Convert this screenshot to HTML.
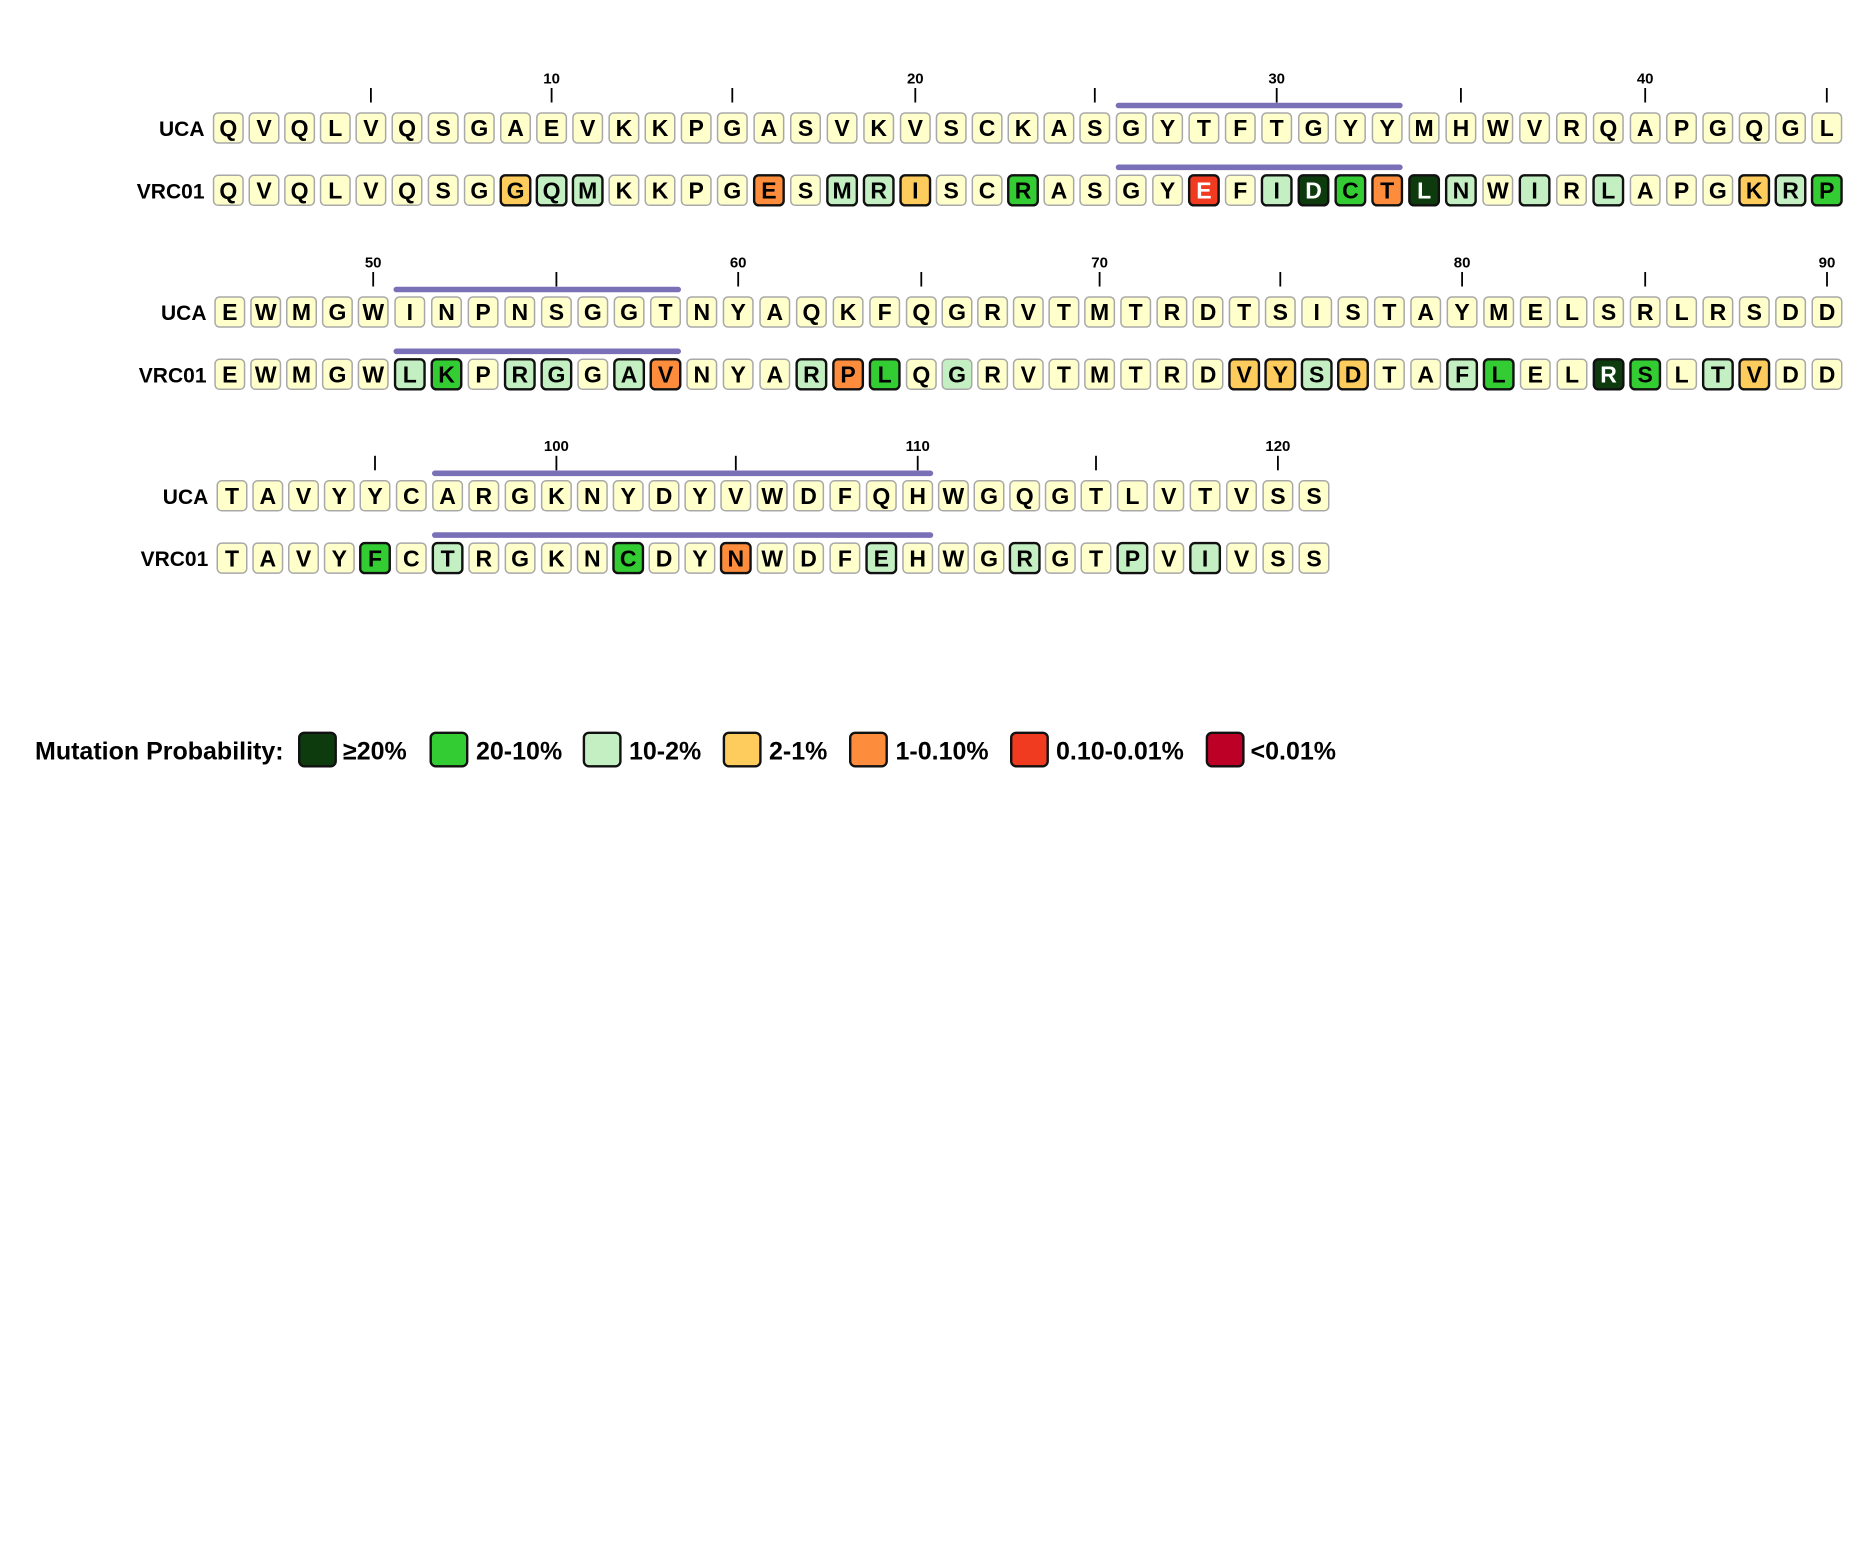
<!DOCTYPE html>
<html><head><meta charset="utf-8">
<style>
html,body{margin:0;padding:0;background:#fff;}
svg{display:block}
svg text{font-family:"Liberation Sans",Arial,sans-serif;font-weight:bold;stroke:none;fill:#000}
.r text{font-size:23px;text-anchor:middle}
.lab{font-size:21px;text-anchor:end}
.tl{font-size:15px;text-anchor:middle}
.leg{font-size:25px}
.p{fill:#ffffcc;stroke:#a8a8a8;stroke-width:1.5}
.lgp{fill:#c3efc3;stroke:#a8a8a8;stroke-width:1.5}
.lg{fill:#c3efc3;stroke:#111;stroke-width:2.4}
.g{fill:#33cc33;stroke:#111;stroke-width:2.4}
.dg{fill:#0e3b0e;stroke:#111;stroke-width:2.4}
.yo{fill:#fecc5c;stroke:#111;stroke-width:2.4}
.or{fill:#fd8d3c;stroke:#111;stroke-width:2.4}
.rd{fill:#f03b20;stroke:#111;stroke-width:2.4}
.dr{fill:#bd0026;stroke:#111;stroke-width:2.4}
.w text{fill:#fff}
.tk{stroke:#000;stroke-width:1.8}
.bar{fill:#7a70b8}
</style></head>
<body>
<svg width="1876" height="1563" viewBox="0 0 1876 1563" xmlns="http://www.w3.org/2000/svg">
<defs><rect id="b" x="-14.75" y="-15" width="29.5" height="30" rx="4.5"/></defs>
<rect width="1876" height="1563" fill="#fff"/>

<!-- ===== Block 1 ===== -->
<g>
<line class="tk" x1="370.9" y1="88" x2="370.9" y2="102.5"/>
<line class="tk" x1="551.6" y1="88" x2="551.6" y2="102.5"/>
<line class="tk" x1="732.3" y1="88" x2="732.3" y2="102.5"/>
<line class="tk" x1="915.3" y1="88" x2="915.3" y2="102.5"/>
<line class="tk" x1="1094.8" y1="88" x2="1094.8" y2="102.5"/>
<line class="tk" x1="1276.7" y1="88" x2="1276.7" y2="102.5"/>
<line class="tk" x1="1460.9" y1="88" x2="1460.9" y2="102.5"/>
<line class="tk" x1="1645.2" y1="88" x2="1645.2" y2="102.5"/>
<line class="tk" x1="1826.8" y1="88" x2="1826.8" y2="102.5"/>
<text class="tl" x="551.6" y="83.3">10</text>
<text class="tl" x="915.3" y="83.3">20</text>
<text class="tl" x="1276.7" y="83.3">30</text>
<text class="tl" x="1645.2" y="83.3">40</text>
<rect class="bar" x="1115.7" y="102.7" width="287" height="5.6" rx="2.8"/>
<rect class="bar" x="1115.7" y="164.5" width="287" height="5.6" rx="2.8"/>
<text class="lab" x="204.5" y="136">UCA</text>
<text class="lab" x="204.5" y="198.3">VRC01</text>
</g>
<g class="r">
<g class="p" transform="translate(228.3,128)"><use href="#b"/><text y="8.2">Q</text></g>
<g class="p" transform="translate(264,128)"><use href="#b"/><text y="8.2">V</text></g>
<g class="p" transform="translate(299.6,128)"><use href="#b"/><text y="8.2">Q</text></g>
<g class="p" transform="translate(335.3,128)"><use href="#b"/><text y="8.2">L</text></g>
<g class="p" transform="translate(370.9,128)"><use href="#b"/><text y="8.2">V</text></g>
<g class="p" transform="translate(407,128)"><use href="#b"/><text y="8.2">Q</text></g>
<g class="p" transform="translate(443.2,128)"><use href="#b"/><text y="8.2">S</text></g>
<g class="p" transform="translate(479.3,128)"><use href="#b"/><text y="8.2">G</text></g>
<g class="p" transform="translate(515.5,128)"><use href="#b"/><text y="8.2">A</text></g>
<g class="p" transform="translate(551.6,128)"><use href="#b"/><text y="8.2">E</text></g>
<g class="p" transform="translate(587.7,128)"><use href="#b"/><text y="8.2">V</text></g>
<g class="p" transform="translate(623.9,128)"><use href="#b"/><text y="8.2">K</text></g>
<g class="p" transform="translate(660,128)"><use href="#b"/><text y="8.2">K</text></g>
<g class="p" transform="translate(696.2,128)"><use href="#b"/><text y="8.2">P</text></g>
<g class="p" transform="translate(732.3,128)"><use href="#b"/><text y="8.2">G</text></g>
<g class="p" transform="translate(768.9,128)"><use href="#b"/><text y="8.2">A</text></g>
<g class="p" transform="translate(805.5,128)"><use href="#b"/><text y="8.2">S</text></g>
<g class="p" transform="translate(842.1,128)"><use href="#b"/><text y="8.2">V</text></g>
<g class="p" transform="translate(878.7,128)"><use href="#b"/><text y="8.2">K</text></g>
<g class="p" transform="translate(915.3,128)"><use href="#b"/><text y="8.2">V</text></g>
<g class="p" transform="translate(951.2,128)"><use href="#b"/><text y="8.2">S</text></g>
<g class="p" transform="translate(987.1,128)"><use href="#b"/><text y="8.2">C</text></g>
<g class="p" transform="translate(1023,128)"><use href="#b"/><text y="8.2">K</text></g>
<g class="p" transform="translate(1058.9,128)"><use href="#b"/><text y="8.2">A</text></g>
<g class="p" transform="translate(1094.8,128)"><use href="#b"/><text y="8.2">S</text></g>
<g class="p" transform="translate(1131.2,128)"><use href="#b"/><text y="8.2">G</text></g>
<g class="p" transform="translate(1167.6,128)"><use href="#b"/><text y="8.2">Y</text></g>
<g class="p" transform="translate(1203.9,128)"><use href="#b"/><text y="8.2">T</text></g>
<g class="p" transform="translate(1240.3,128)"><use href="#b"/><text y="8.2">F</text></g>
<g class="p" transform="translate(1276.7,128)"><use href="#b"/><text y="8.2">T</text></g>
<g class="p" transform="translate(1313.5,128)"><use href="#b"/><text y="8.2">G</text></g>
<g class="p" transform="translate(1350.4,128)"><use href="#b"/><text y="8.2">Y</text></g>
<g class="p" transform="translate(1387.2,128)"><use href="#b"/><text y="8.2">Y</text></g>
<g class="p" transform="translate(1424.1,128)"><use href="#b"/><text y="8.2">M</text></g>
<g class="p" transform="translate(1460.9,128)"><use href="#b"/><text y="8.2">H</text></g>
<g class="p" transform="translate(1497.8,128)"><use href="#b"/><text y="8.2">W</text></g>
<g class="p" transform="translate(1534.6,128)"><use href="#b"/><text y="8.2">V</text></g>
<g class="p" transform="translate(1571.5,128)"><use href="#b"/><text y="8.2">R</text></g>
<g class="p" transform="translate(1608.3,128)"><use href="#b"/><text y="8.2">Q</text></g>
<g class="p" transform="translate(1645.2,128)"><use href="#b"/><text y="8.2">A</text></g>
<g class="p" transform="translate(1681.5,128)"><use href="#b"/><text y="8.2">P</text></g>
<g class="p" transform="translate(1717.8,128)"><use href="#b"/><text y="8.2">G</text></g>
<g class="p" transform="translate(1754.2,128)"><use href="#b"/><text y="8.2">Q</text></g>
<g class="p" transform="translate(1790.5,128)"><use href="#b"/><text y="8.2">G</text></g>
<g class="p" transform="translate(1826.8,128)"><use href="#b"/><text y="8.2">L</text></g>

<g class="p" transform="translate(228.3,190.3)"><use href="#b"/><text y="8.2">Q</text></g>
<g class="p" transform="translate(264,190.3)"><use href="#b"/><text y="8.2">V</text></g>
<g class="p" transform="translate(299.6,190.3)"><use href="#b"/><text y="8.2">Q</text></g>
<g class="p" transform="translate(335.3,190.3)"><use href="#b"/><text y="8.2">L</text></g>
<g class="p" transform="translate(370.9,190.3)"><use href="#b"/><text y="8.2">V</text></g>
<g class="p" transform="translate(407,190.3)"><use href="#b"/><text y="8.2">Q</text></g>
<g class="p" transform="translate(443.2,190.3)"><use href="#b"/><text y="8.2">S</text></g>
<g class="p" transform="translate(479.3,190.3)"><use href="#b"/><text y="8.2">G</text></g>
<g class="yo" transform="translate(515.5,190.3)"><use href="#b"/><text y="8.2">G</text></g>
<g class="lg" transform="translate(551.6,190.3)"><use href="#b"/><text y="8.2">Q</text></g>
<g class="lg" transform="translate(587.7,190.3)"><use href="#b"/><text y="8.2">M</text></g>
<g class="p" transform="translate(623.9,190.3)"><use href="#b"/><text y="8.2">K</text></g>
<g class="p" transform="translate(660,190.3)"><use href="#b"/><text y="8.2">K</text></g>
<g class="p" transform="translate(696.2,190.3)"><use href="#b"/><text y="8.2">P</text></g>
<g class="p" transform="translate(732.3,190.3)"><use href="#b"/><text y="8.2">G</text></g>
<g class="or" transform="translate(768.9,190.3)"><use href="#b"/><text y="8.2">E</text></g>
<g class="p" transform="translate(805.5,190.3)"><use href="#b"/><text y="8.2">S</text></g>
<g class="lg" transform="translate(842.1,190.3)"><use href="#b"/><text y="8.2">M</text></g>
<g class="lg" transform="translate(878.7,190.3)"><use href="#b"/><text y="8.2">R</text></g>
<g class="yo" transform="translate(915.3,190.3)"><use href="#b"/><text y="8.2">I</text></g>
<g class="p" transform="translate(951.2,190.3)"><use href="#b"/><text y="8.2">S</text></g>
<g class="p" transform="translate(987.1,190.3)"><use href="#b"/><text y="8.2">C</text></g>
<g class="g" transform="translate(1023,190.3)"><use href="#b"/><text y="8.2">R</text></g>
<g class="p" transform="translate(1058.9,190.3)"><use href="#b"/><text y="8.2">A</text></g>
<g class="p" transform="translate(1094.8,190.3)"><use href="#b"/><text y="8.2">S</text></g>
<g class="p" transform="translate(1131.2,190.3)"><use href="#b"/><text y="8.2">G</text></g>
<g class="p" transform="translate(1167.6,190.3)"><use href="#b"/><text y="8.2">Y</text></g>
<g class="rd w" transform="translate(1203.9,190.3)"><use href="#b"/><text y="8.2">E</text></g>
<g class="p" transform="translate(1240.3,190.3)"><use href="#b"/><text y="8.2">F</text></g>
<g class="lg" transform="translate(1276.7,190.3)"><use href="#b"/><text y="8.2">I</text></g>
<g class="dg w" transform="translate(1313.5,190.3)"><use href="#b"/><text y="8.2">D</text></g>
<g class="g" transform="translate(1350.4,190.3)"><use href="#b"/><text y="8.2">C</text></g>
<g class="or" transform="translate(1387.2,190.3)"><use href="#b"/><text y="8.2">T</text></g>
<g class="dg w" transform="translate(1424.1,190.3)"><use href="#b"/><text y="8.2">L</text></g>
<g class="lg" transform="translate(1460.9,190.3)"><use href="#b"/><text y="8.2">N</text></g>
<g class="p" transform="translate(1497.8,190.3)"><use href="#b"/><text y="8.2">W</text></g>
<g class="lg" transform="translate(1534.6,190.3)"><use href="#b"/><text y="8.2">I</text></g>
<g class="p" transform="translate(1571.5,190.3)"><use href="#b"/><text y="8.2">R</text></g>
<g class="lg" transform="translate(1608.3,190.3)"><use href="#b"/><text y="8.2">L</text></g>
<g class="p" transform="translate(1645.2,190.3)"><use href="#b"/><text y="8.2">A</text></g>
<g class="p" transform="translate(1681.5,190.3)"><use href="#b"/><text y="8.2">P</text></g>
<g class="p" transform="translate(1717.8,190.3)"><use href="#b"/><text y="8.2">G</text></g>
<g class="yo" transform="translate(1754.2,190.3)"><use href="#b"/><text y="8.2">K</text></g>
<g class="lg" transform="translate(1790.5,190.3)"><use href="#b"/><text y="8.2">R</text></g>
<g class="g" transform="translate(1826.8,190.3)"><use href="#b"/><text y="8.2">P</text></g>
</g>

<!-- ===== Block 2 ===== -->
<g>
<line class="tk" x1="373.2" y1="272" x2="373.2" y2="286.5"/>
<line class="tk" x1="556.4" y1="272" x2="556.4" y2="286.5"/>
<line class="tk" x1="738.2" y1="272" x2="738.2" y2="286.5"/>
<line class="tk" x1="921.3" y1="272" x2="921.3" y2="286.5"/>
<line class="tk" x1="1099.6" y1="272" x2="1099.6" y2="286.5"/>
<line class="tk" x1="1280.3" y1="272" x2="1280.3" y2="286.5"/>
<line class="tk" x1="1462.1" y1="272" x2="1462.1" y2="286.5"/>
<line class="tk" x1="1645.2" y1="272" x2="1645.2" y2="286.5"/>
<line class="tk" x1="1827" y1="272" x2="1827" y2="286.5"/>
<text class="tl" x="373.2" y="267.3">50</text>
<text class="tl" x="738.2" y="267.3">60</text>
<text class="tl" x="1099.6" y="267.3">70</text>
<text class="tl" x="1462.1" y="267.3">80</text>
<text class="tl" x="1827" y="267.3">90</text>
<rect class="bar" x="393.5" y="286.7" width="287.5" height="5.6" rx="2.8"/>
<rect class="bar" x="393.5" y="348.5" width="287.5" height="5.6" rx="2.8"/>
<text class="lab" x="206.5" y="320">UCA</text>
<text class="lab" x="206.5" y="382.3">VRC01</text>
</g>
<g class="r">
<g class="p" transform="translate(229.8,312)"><use href="#b"/><text y="8.2">E</text></g>
<g class="p" transform="translate(265.7,312)"><use href="#b"/><text y="8.2">W</text></g>
<g class="p" transform="translate(301.5,312)"><use href="#b"/><text y="8.2">M</text></g>
<g class="p" transform="translate(337.4,312)"><use href="#b"/><text y="8.2">G</text></g>
<g class="p" transform="translate(373.2,312)"><use href="#b"/><text y="8.2">W</text></g>
<g class="p" transform="translate(409.8,312)"><use href="#b"/><text y="8.2">I</text></g>
<g class="p" transform="translate(446.5,312)"><use href="#b"/><text y="8.2">N</text></g>
<g class="p" transform="translate(483.1,312)"><use href="#b"/><text y="8.2">P</text></g>
<g class="p" transform="translate(519.8,312)"><use href="#b"/><text y="8.2">N</text></g>
<g class="p" transform="translate(556.4,312)"><use href="#b"/><text y="8.2">S</text></g>
<g class="p" transform="translate(592.8,312)"><use href="#b"/><text y="8.2">G</text></g>
<g class="p" transform="translate(629.1,312)"><use href="#b"/><text y="8.2">G</text></g>
<g class="p" transform="translate(665.5,312)"><use href="#b"/><text y="8.2">T</text></g>
<g class="p" transform="translate(701.8,312)"><use href="#b"/><text y="8.2">N</text></g>
<g class="p" transform="translate(738.2,312)"><use href="#b"/><text y="8.2">Y</text></g>
<g class="p" transform="translate(774.8,312)"><use href="#b"/><text y="8.2">A</text></g>
<g class="p" transform="translate(811.4,312)"><use href="#b"/><text y="8.2">Q</text></g>
<g class="p" transform="translate(848.1,312)"><use href="#b"/><text y="8.2">K</text></g>
<g class="p" transform="translate(884.7,312)"><use href="#b"/><text y="8.2">F</text></g>
<g class="p" transform="translate(921.3,312)"><use href="#b"/><text y="8.2">Q</text></g>
<g class="p" transform="translate(957,312)"><use href="#b"/><text y="8.2">G</text></g>
<g class="p" transform="translate(992.6,312)"><use href="#b"/><text y="8.2">R</text></g>
<g class="p" transform="translate(1028.3,312)"><use href="#b"/><text y="8.2">V</text></g>
<g class="p" transform="translate(1063.9,312)"><use href="#b"/><text y="8.2">T</text></g>
<g class="p" transform="translate(1099.6,312)"><use href="#b"/><text y="8.2">M</text></g>
<g class="p" transform="translate(1135.7,312)"><use href="#b"/><text y="8.2">T</text></g>
<g class="p" transform="translate(1171.9,312)"><use href="#b"/><text y="8.2">R</text></g>
<g class="p" transform="translate(1208,312)"><use href="#b"/><text y="8.2">D</text></g>
<g class="p" transform="translate(1244.2,312)"><use href="#b"/><text y="8.2">T</text></g>
<g class="p" transform="translate(1280.3,312)"><use href="#b"/><text y="8.2">S</text></g>
<g class="p" transform="translate(1316.7,312)"><use href="#b"/><text y="8.2">I</text></g>
<g class="p" transform="translate(1353,312)"><use href="#b"/><text y="8.2">S</text></g>
<g class="p" transform="translate(1389.4,312)"><use href="#b"/><text y="8.2">T</text></g>
<g class="p" transform="translate(1425.7,312)"><use href="#b"/><text y="8.2">A</text></g>
<g class="p" transform="translate(1462.1,312)"><use href="#b"/><text y="8.2">Y</text></g>
<g class="p" transform="translate(1498.7,312)"><use href="#b"/><text y="8.2">M</text></g>
<g class="p" transform="translate(1535.3,312)"><use href="#b"/><text y="8.2">E</text></g>
<g class="p" transform="translate(1572,312)"><use href="#b"/><text y="8.2">L</text></g>
<g class="p" transform="translate(1608.6,312)"><use href="#b"/><text y="8.2">S</text></g>
<g class="p" transform="translate(1645.2,312)"><use href="#b"/><text y="8.2">R</text></g>
<g class="p" transform="translate(1681.6,312)"><use href="#b"/><text y="8.2">L</text></g>
<g class="p" transform="translate(1717.9,312)"><use href="#b"/><text y="8.2">R</text></g>
<g class="p" transform="translate(1754.3,312)"><use href="#b"/><text y="8.2">S</text></g>
<g class="p" transform="translate(1790.6,312)"><use href="#b"/><text y="8.2">D</text></g>
<g class="p" transform="translate(1827,312)"><use href="#b"/><text y="8.2">D</text></g>

<g class="p" transform="translate(229.8,374.3)"><use href="#b"/><text y="8.2">E</text></g>
<g class="p" transform="translate(265.7,374.3)"><use href="#b"/><text y="8.2">W</text></g>
<g class="p" transform="translate(301.5,374.3)"><use href="#b"/><text y="8.2">M</text></g>
<g class="p" transform="translate(337.4,374.3)"><use href="#b"/><text y="8.2">G</text></g>
<g class="p" transform="translate(373.2,374.3)"><use href="#b"/><text y="8.2">W</text></g>
<g class="lg" transform="translate(409.8,374.3)"><use href="#b"/><text y="8.2">L</text></g>
<g class="g" transform="translate(446.5,374.3)"><use href="#b"/><text y="8.2">K</text></g>
<g class="p" transform="translate(483.1,374.3)"><use href="#b"/><text y="8.2">P</text></g>
<g class="lg" transform="translate(519.8,374.3)"><use href="#b"/><text y="8.2">R</text></g>
<g class="lg" transform="translate(556.4,374.3)"><use href="#b"/><text y="8.2">G</text></g>
<g class="p" transform="translate(592.8,374.3)"><use href="#b"/><text y="8.2">G</text></g>
<g class="lg" transform="translate(629.1,374.3)"><use href="#b"/><text y="8.2">A</text></g>
<g class="or" transform="translate(665.5,374.3)"><use href="#b"/><text y="8.2">V</text></g>
<g class="p" transform="translate(701.8,374.3)"><use href="#b"/><text y="8.2">N</text></g>
<g class="p" transform="translate(738.2,374.3)"><use href="#b"/><text y="8.2">Y</text></g>
<g class="p" transform="translate(774.8,374.3)"><use href="#b"/><text y="8.2">A</text></g>
<g class="lg" transform="translate(811.4,374.3)"><use href="#b"/><text y="8.2">R</text></g>
<g class="or" transform="translate(848.1,374.3)"><use href="#b"/><text y="8.2">P</text></g>
<g class="g" transform="translate(884.7,374.3)"><use href="#b"/><text y="8.2">L</text></g>
<g class="p" transform="translate(921.3,374.3)"><use href="#b"/><text y="8.2">Q</text></g>
<g class="lgp" transform="translate(957,374.3)"><use href="#b"/><text y="8.2">G</text></g>
<g class="p" transform="translate(992.6,374.3)"><use href="#b"/><text y="8.2">R</text></g>
<g class="p" transform="translate(1028.3,374.3)"><use href="#b"/><text y="8.2">V</text></g>
<g class="p" transform="translate(1063.9,374.3)"><use href="#b"/><text y="8.2">T</text></g>
<g class="p" transform="translate(1099.6,374.3)"><use href="#b"/><text y="8.2">M</text></g>
<g class="p" transform="translate(1135.7,374.3)"><use href="#b"/><text y="8.2">T</text></g>
<g class="p" transform="translate(1171.9,374.3)"><use href="#b"/><text y="8.2">R</text></g>
<g class="p" transform="translate(1208,374.3)"><use href="#b"/><text y="8.2">D</text></g>
<g class="yo" transform="translate(1244.2,374.3)"><use href="#b"/><text y="8.2">V</text></g>
<g class="yo" transform="translate(1280.3,374.3)"><use href="#b"/><text y="8.2">Y</text></g>
<g class="lg" transform="translate(1316.7,374.3)"><use href="#b"/><text y="8.2">S</text></g>
<g class="yo" transform="translate(1353,374.3)"><use href="#b"/><text y="8.2">D</text></g>
<g class="p" transform="translate(1389.4,374.3)"><use href="#b"/><text y="8.2">T</text></g>
<g class="p" transform="translate(1425.7,374.3)"><use href="#b"/><text y="8.2">A</text></g>
<g class="lg" transform="translate(1462.1,374.3)"><use href="#b"/><text y="8.2">F</text></g>
<g class="g" transform="translate(1498.7,374.3)"><use href="#b"/><text y="8.2">L</text></g>
<g class="p" transform="translate(1535.3,374.3)"><use href="#b"/><text y="8.2">E</text></g>
<g class="p" transform="translate(1572,374.3)"><use href="#b"/><text y="8.2">L</text></g>
<g class="dg w" transform="translate(1608.6,374.3)"><use href="#b"/><text y="8.2">R</text></g>
<g class="g" transform="translate(1645.2,374.3)"><use href="#b"/><text y="8.2">S</text></g>
<g class="p" transform="translate(1681.6,374.3)"><use href="#b"/><text y="8.2">L</text></g>
<g class="lg" transform="translate(1717.9,374.3)"><use href="#b"/><text y="8.2">T</text></g>
<g class="yo" transform="translate(1754.3,374.3)"><use href="#b"/><text y="8.2">V</text></g>
<g class="p" transform="translate(1790.6,374.3)"><use href="#b"/><text y="8.2">D</text></g>
<g class="p" transform="translate(1827,374.3)"><use href="#b"/><text y="8.2">D</text></g>
</g>

<!-- ===== Block 3 ===== -->
<g>
<line class="tk" x1="375" y1="455.8" x2="375" y2="470.3"/>
<line class="tk" x1="556.4" y1="455.8" x2="556.4" y2="470.3"/>
<line class="tk" x1="735.8" y1="455.8" x2="735.8" y2="470.3"/>
<line class="tk" x1="917.7" y1="455.8" x2="917.7" y2="470.3"/>
<line class="tk" x1="1096" y1="455.8" x2="1096" y2="470.3"/>
<line class="tk" x1="1277.9" y1="455.8" x2="1277.9" y2="470.3"/>
<text class="tl" x="556.4" y="451.1">100</text>
<text class="tl" x="917.7" y="451.1">110</text>
<text class="tl" x="1277.9" y="451.1">120</text>
<rect class="bar" x="432" y="470.5" width="501.2" height="5.6" rx="2.8"/>
<rect class="bar" x="432" y="532.3" width="501.2" height="5.6" rx="2.8"/>
<text class="lab" x="208.3" y="503.8">UCA</text>
<text class="lab" x="208.3" y="566.1">VRC01</text>
</g>
<g class="r">
<g class="p" transform="translate(232,495.8)"><use href="#b"/><text y="8.2">T</text></g>
<g class="p" transform="translate(267.8,495.8)"><use href="#b"/><text y="8.2">A</text></g>
<g class="p" transform="translate(303.5,495.8)"><use href="#b"/><text y="8.2">V</text></g>
<g class="p" transform="translate(339.3,495.8)"><use href="#b"/><text y="8.2">Y</text></g>
<g class="p" transform="translate(375,495.8)"><use href="#b"/><text y="8.2">Y</text></g>
<g class="p" transform="translate(411.3,495.8)"><use href="#b"/><text y="8.2">C</text></g>
<g class="p" transform="translate(447.6,495.8)"><use href="#b"/><text y="8.2">A</text></g>
<g class="p" transform="translate(483.8,495.8)"><use href="#b"/><text y="8.2">R</text></g>
<g class="p" transform="translate(520.1,495.8)"><use href="#b"/><text y="8.2">G</text></g>
<g class="p" transform="translate(556.4,495.8)"><use href="#b"/><text y="8.2">K</text></g>
<g class="p" transform="translate(592.3,495.8)"><use href="#b"/><text y="8.2">N</text></g>
<g class="p" transform="translate(628.2,495.8)"><use href="#b"/><text y="8.2">Y</text></g>
<g class="p" transform="translate(664,495.8)"><use href="#b"/><text y="8.2">D</text></g>
<g class="p" transform="translate(699.9,495.8)"><use href="#b"/><text y="8.2">Y</text></g>
<g class="p" transform="translate(735.8,495.8)"><use href="#b"/><text y="8.2">V</text></g>
<g class="p" transform="translate(772.2,495.8)"><use href="#b"/><text y="8.2">W</text></g>
<g class="p" transform="translate(808.6,495.8)"><use href="#b"/><text y="8.2">D</text></g>
<g class="p" transform="translate(844.9,495.8)"><use href="#b"/><text y="8.2">F</text></g>
<g class="p" transform="translate(881.3,495.8)"><use href="#b"/><text y="8.2">Q</text></g>
<g class="p" transform="translate(917.7,495.8)"><use href="#b"/><text y="8.2">H</text></g>
<g class="p" transform="translate(953.4,495.8)"><use href="#b"/><text y="8.2">W</text></g>
<g class="p" transform="translate(989,495.8)"><use href="#b"/><text y="8.2">G</text></g>
<g class="p" transform="translate(1024.7,495.8)"><use href="#b"/><text y="8.2">Q</text></g>
<g class="p" transform="translate(1060.3,495.8)"><use href="#b"/><text y="8.2">G</text></g>
<g class="p" transform="translate(1096,495.8)"><use href="#b"/><text y="8.2">T</text></g>
<g class="p" transform="translate(1132.4,495.8)"><use href="#b"/><text y="8.2">L</text></g>
<g class="p" transform="translate(1168.8,495.8)"><use href="#b"/><text y="8.2">V</text></g>
<g class="p" transform="translate(1205.1,495.8)"><use href="#b"/><text y="8.2">T</text></g>
<g class="p" transform="translate(1241.5,495.8)"><use href="#b"/><text y="8.2">V</text></g>
<g class="p" transform="translate(1277.9,495.8)"><use href="#b"/><text y="8.2">S</text></g>
<g class="p" transform="translate(1314,495.8)"><use href="#b"/><text y="8.2">S</text></g>

<g class="p" transform="translate(232,558.1)"><use href="#b"/><text y="8.2">T</text></g>
<g class="p" transform="translate(267.8,558.1)"><use href="#b"/><text y="8.2">A</text></g>
<g class="p" transform="translate(303.5,558.1)"><use href="#b"/><text y="8.2">V</text></g>
<g class="p" transform="translate(339.3,558.1)"><use href="#b"/><text y="8.2">Y</text></g>
<g class="g" transform="translate(375,558.1)"><use href="#b"/><text y="8.2">F</text></g>
<g class="p" transform="translate(411.3,558.1)"><use href="#b"/><text y="8.2">C</text></g>
<g class="lg" transform="translate(447.6,558.1)"><use href="#b"/><text y="8.2">T</text></g>
<g class="p" transform="translate(483.8,558.1)"><use href="#b"/><text y="8.2">R</text></g>
<g class="p" transform="translate(520.1,558.1)"><use href="#b"/><text y="8.2">G</text></g>
<g class="p" transform="translate(556.4,558.1)"><use href="#b"/><text y="8.2">K</text></g>
<g class="p" transform="translate(592.3,558.1)"><use href="#b"/><text y="8.2">N</text></g>
<g class="g" transform="translate(628.2,558.1)"><use href="#b"/><text y="8.2">C</text></g>
<g class="p" transform="translate(664,558.1)"><use href="#b"/><text y="8.2">D</text></g>
<g class="p" transform="translate(699.9,558.1)"><use href="#b"/><text y="8.2">Y</text></g>
<g class="or" transform="translate(735.8,558.1)"><use href="#b"/><text y="8.2">N</text></g>
<g class="p" transform="translate(772.2,558.1)"><use href="#b"/><text y="8.2">W</text></g>
<g class="p" transform="translate(808.6,558.1)"><use href="#b"/><text y="8.2">D</text></g>
<g class="p" transform="translate(844.9,558.1)"><use href="#b"/><text y="8.2">F</text></g>
<g class="lg" transform="translate(881.3,558.1)"><use href="#b"/><text y="8.2">E</text></g>
<g class="p" transform="translate(917.7,558.1)"><use href="#b"/><text y="8.2">H</text></g>
<g class="p" transform="translate(953.4,558.1)"><use href="#b"/><text y="8.2">W</text></g>
<g class="p" transform="translate(989,558.1)"><use href="#b"/><text y="8.2">G</text></g>
<g class="lg" transform="translate(1024.7,558.1)"><use href="#b"/><text y="8.2">R</text></g>
<g class="p" transform="translate(1060.3,558.1)"><use href="#b"/><text y="8.2">G</text></g>
<g class="p" transform="translate(1096,558.1)"><use href="#b"/><text y="8.2">T</text></g>
<g class="lg" transform="translate(1132.4,558.1)"><use href="#b"/><text y="8.2">P</text></g>
<g class="p" transform="translate(1168.8,558.1)"><use href="#b"/><text y="8.2">V</text></g>
<g class="lg" transform="translate(1205.1,558.1)"><use href="#b"/><text y="8.2">I</text></g>
<g class="p" transform="translate(1241.5,558.1)"><use href="#b"/><text y="8.2">V</text></g>
<g class="p" transform="translate(1277.9,558.1)"><use href="#b"/><text y="8.2">S</text></g>
<g class="p" transform="translate(1314,558.1)"><use href="#b"/><text y="8.2">S</text></g>
</g>

<!-- ===== Legend ===== -->
<g>
<text class="leg" x="35" y="759.3">Mutation Probability:</text>
<rect class="dg" x="299.2" y="732.8" width="36.5" height="33.5" rx="5"/>
<text class="leg" x="343" y="759.3">≥20%</text>
<rect class="g" x="430.7" y="732.8" width="36.5" height="33.5" rx="5"/>
<text class="leg" x="476" y="759.3">20-10%</text>
<rect class="lg" x="583.9" y="732.8" width="36.5" height="33.5" rx="5"/>
<text class="leg" x="629" y="759.3">10-2%</text>
<rect class="yo" x="723.9" y="732.8" width="36.5" height="33.5" rx="5"/>
<text class="leg" x="769" y="759.3">2-1%</text>
<rect class="or" x="850.2" y="732.8" width="36.5" height="33.5" rx="5"/>
<text class="leg" x="895.5" y="759.3">1-0.10%</text>
<rect class="rd" x="1011.2" y="732.8" width="36.5" height="33.5" rx="5"/>
<text class="leg" x="1056" y="759.3">0.10-0.01%</text>
<rect class="dr" x="1206.9" y="732.8" width="36.5" height="33.5" rx="5"/>
<text class="leg" x="1250.5" y="759.3">&lt;0.01%</text>
</g>
</svg>
</body></html>
